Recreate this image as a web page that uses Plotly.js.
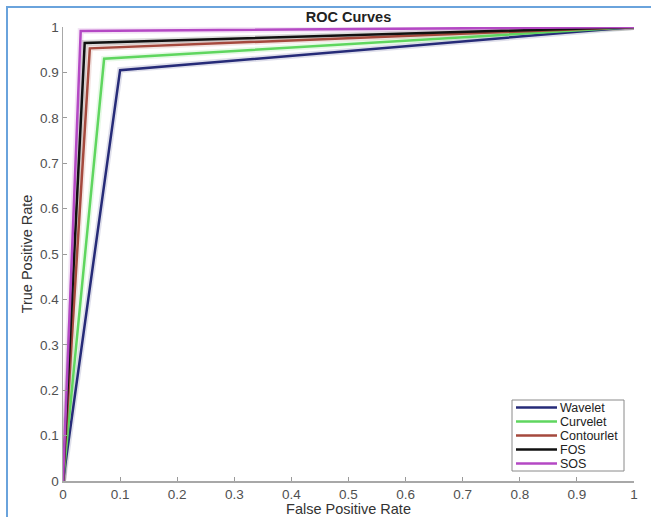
<!DOCTYPE html>
<html>
<head>
<meta charset="utf-8">
<script src="https://cdn.plot.ly/plotly-3.0.1.min.js"></script>
<style>
  html, body { margin: 0; padding: 0; background: #fff; }
  #wrap { position: relative; width: 651px; height: 517px; }
  #chart { width: 651px; height: 517px; }
  #frame { position: absolute; left: 6px; top: 6px; width: 660px; height: 530px;
           border-left: 2px solid #6aa3dc; border-top: 2px solid #6aa3dc; pointer-events: none; }
</style>
</head>
<body>
<div id="wrap">
  <div id="chart"></div>
  <div id="frame"></div>
</div>
<script>
// ---- data ----
const seriesNames = ['Wavelet', 'Curvelet', 'Contourlet', 'FOS', 'SOS'];
const seriesColors = ['#262b78', '#5fd65f', '#a5493d', '#111111', '#b448c4'];
const waveletFPR = [0, 0.10, 1];
const waveletTPR = [0, 0.905, 1];
const curveletFPR = [0, 0.072, 1];
const curveletTPR = [0, 0.93, 1];
const contourletFPR = [0, 0.047, 1];
const contourletTPR = [0, 0.953, 1];
const fosFPR = [0, 0.038, 1];
const fosTPR = [0, 0.965, 1];
const sosFPR = [0, 0.031, 1];
const sosTPR = [0, 0.991, 1];
const tickVals = [0, 0.1, 0.2, 0.3, 0.4, 0.5, 0.6, 0.7, 0.8, 0.9, 1];
const tickText = ['0', '0.1', '0.2', '0.3', '0.4', '0.5', '0.6', '0.7', '0.8', '0.9', '1'];

const xs = [waveletFPR, curveletFPR, contourletFPR, fosFPR, sosFPR];
const ys = [waveletTPR, curveletTPR, contourletTPR, fosTPR, sosTPR];

// ---- layout geometry ----
const W = 651, H = 517;
const M = { l: 63, r: 17, t: 27, b: 36 };
const pw = W - M.l - M.r, ph = H - M.t - M.b;
const px2x = p => (p - M.l) / pw;
const py2y = p => (H - M.b - p) / ph;
const FONT = 'Liberation Sans, Arial, sans-serif';

const traces = [];
seriesNames.forEach((n, i) => {
  // soft halo
  traces.push({ x: xs[i], y: ys[i], mode: 'lines', showlegend: false, hoverinfo: 'skip',
    line: { color: seriesColors[i], width: 6 }, opacity: 0.15 });
});
seriesNames.forEach((n, i) => {
  traces.push({ x: xs[i], y: ys[i], mode: 'lines', name: n, showlegend: false,
    line: { color: seriesColors[i], width: 2.5 } });
});

// manual legend (compact like MATLAB)
const shapes = [{
  type: 'rect', xref: 'paper', yref: 'paper',
  x0: px2x(512), x1: px2x(624), y0: py2y(471), y1: py2y(400),
  line: { color: '#8a8a8a', width: 1 }, fillcolor: '#ffffff', layer: 'above'
}];
const annotations = [];
seriesNames.forEach((n, i) => {
  const yc = 407.5 + i * 14;
  shapes.push({ type: 'line', xref: 'paper', yref: 'paper',
    x0: px2x(516), x1: px2x(557), y0: py2y(yc), y1: py2y(yc),
    line: { color: seriesColors[i], width: 2.5 }, layer: 'above' });
  annotations.push({ xref: 'paper', yref: 'paper', x: px2x(558), y: py2y(yc),
    xanchor: 'left', yanchor: 'middle', text: n, showarrow: false,
    font: { family: FONT, size: 12.5, color: '#222' } });
});

const axisCommon = {
  range: [0, 1], tickmode: 'array', tickvals: tickVals, ticktext: tickText,
  ticks: 'inside', ticklen: 4, tickcolor: '#9a9a9a', tickwidth: 1,
  showline: true, linecolor: '#a8a8a8', linewidth: 1.5, showgrid: false, zeroline: false,
  tickfont: { family: FONT, size: 13.5, color: '#505050' },
  fixedrange: true
};

const layout = {
  width: W, height: H, margin: M,
  paper_bgcolor: '#ffffff', plot_bgcolor: '#ffffff',
  showlegend: false,
  title: { text: '<b>ROC Curves</b>', x: 0.5, xref: 'paper', y: 1 - 17 / H, yref: 'container',
    xanchor: 'center', yanchor: 'middle',
    font: { family: FONT, size: 14.5, color: '#222' } },
  xaxis: Object.assign({}, axisCommon, {
    title: { text: 'False Positive Rate', standoff: 2,
      font: { family: FONT, size: 14.5, color: '#333' } } }),
  yaxis: Object.assign({}, axisCommon, {
    title: { text: 'True Positive Rate', standoff: 4,
      font: { family: FONT, size: 14.5, color: '#333' } } }),
  shapes: shapes, annotations: annotations
};

Plotly.newPlot('chart', traces, layout, { displayModeBar: false, staticPlot: true });
</script>
</body>
</html>
